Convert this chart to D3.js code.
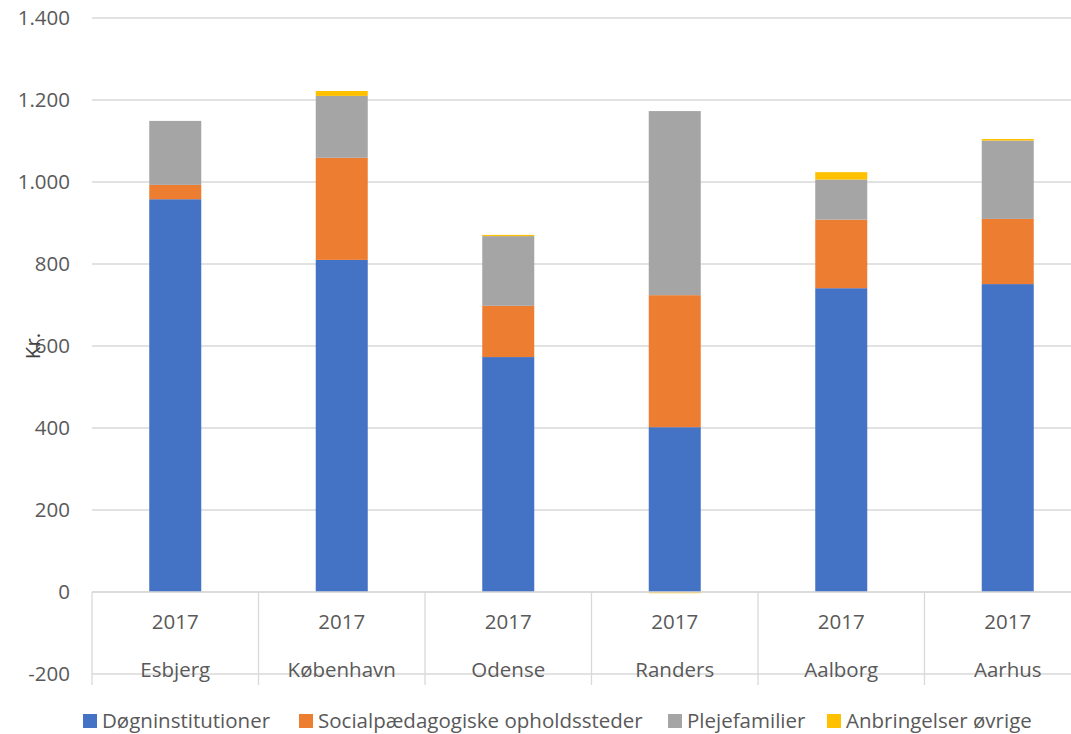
<!DOCTYPE html>
<html><head><meta charset="utf-8">
<script src="https://cdn.jsdelivr.net/npm/d3@7"></script>
<style>body{margin:0;background:#fff;}svg{display:block;font-family:"Open Sans",sans-serif;}</style>
</head><body><svg id="c" width="1071" height="734"></svg>
<script>
const cities = ["Esbjerg","København","Odense","Randers","Aalborg","Aarhus"];
const years = ["2017","2017","2017","2017","2017","2017"];
const seriesNames = ["Døgninstitutioner","Socialpædagogiske opholdssteder","Plejefamilier","Anbringelser øvrige"];
const colors = ["#4472C4","#ED7D31","#A5A5A5","#FFC000"];
const doegn = [958, 810, 573, 402, 741, 751];
const social = [35, 249, 125, 322, 167, 159];
const pleje = [156, 151, 170, 449, 98, 191];
const oevrige = [0, 12, 3, -3, 18, 4];
const yTicks = [-200, 0, 200, 400, 600, 800, 1000, 1200, 1400];

(function(){
const svg = d3.select("#c");
const pLeft = 92, pRight = 1091, pTop = 18, pBottom = 674;
const fs = 20.5;
const y = d3.scaleLinear().domain([-200,1400]).range([pBottom, pTop]);
const x = d3.scaleBand().domain(cities).range([pLeft, pRight]).paddingInner(0).paddingOuter(0);
const fmt = v => d3.format(",")(v).replace(/,/g, ".").replace("\u2212", "-");

// gridlines
svg.append("g").selectAll("line").data(yTicks).join("line")
  .attr("x1", pLeft).attr("x2", pRight)
  .attr("y1", d => y(d)).attr("y2", d => y(d))
  .attr("stroke", "#d9d9d9").attr("stroke-width", 1.3);

// y tick labels
svg.append("g").selectAll("text").data(yTicks).join("text")
  .attr("x", 70).attr("y", d => y(d)).attr("dy", "0.35em")
  .attr("text-anchor", "end").attr("font-size", fs).attr("fill", "#595959")
  .text(d => fmt(d));

// y axis title
svg.append("text").attr("transform", `translate(40,${y(600)}) rotate(-90)`)
  .attr("text-anchor", "middle").attr("font-size", fs).attr("fill", "#404040").text("Kr.");

// stacked bars
const series = [doegn, social, pleje, oevrige];
const bw = 52;
cities.forEach((c, i) => {
  let posBase = 0, negBase = 0;
  series.forEach((s, k) => {
    const v = s[i];
    let y0, y1;
    if (v >= 0) { y0 = posBase; y1 = posBase + v; posBase = y1; }
    else { y0 = negBase + v; y1 = negBase; negBase = y0; }
    if (v === 0) return;
    svg.append("rect")
      .attr("x", x(c) + x.bandwidth()/2 - bw/2)
      .attr("width", bw)
      .attr("y", y(y1))
      .attr("height", Math.max(0.8, y(y0) - y(y1)))
      .attr("fill", colors[k]);
  });
});

// zero axis line
svg.append("line").attr("x1", pLeft).attr("x2", pRight).attr("y1", y(0)).attr("y2", y(0))
  .attr("stroke", "#d9d9d9").attr("stroke-width", 1.3);

// category separators
const seps = cities.map(c => x(c));
svg.append("g").selectAll("line").data(seps).join("line")
  .attr("x1", d => d).attr("x2", d => d).attr("y1", y(0)).attr("y2", 685)
  .attr("stroke", "#d9d9d9").attr("stroke-width", 1.3);

// category labels
svg.append("g").selectAll("text").data(cities).join("text")
  .attr("x", d => x(d) + x.bandwidth()/2).attr("y", 629)
  .attr("text-anchor", "middle").attr("font-size", fs).attr("fill", "#595959")
  .text((d, i) => years[i]);
svg.append("g").selectAll("text").data(cities).join("text")
  .attr("x", d => x(d) + x.bandwidth()/2).attr("y", 677)
  .attr("text-anchor", "middle").attr("font-size", fs).attr("fill", "#595959")
  .text(d => d);

// legend
const legX = [83, 299, 668, 827];
const lg = svg.append("g").selectAll("g").data(seriesNames).join("g")
  .attr("transform", (d, i) => `translate(${legX[i]},721)`);
lg.append("rect").attr("x", 0).attr("y", -7).attr("width", 14).attr("height", 14)
  .attr("fill", (d, i) => colors[i]);
lg.append("text").attr("x", 19).attr("y", 0).attr("dy", "0.35em")
  .attr("font-size", fs).attr("fill", "#595959").text(d => d);
})();
</script></body></html>
